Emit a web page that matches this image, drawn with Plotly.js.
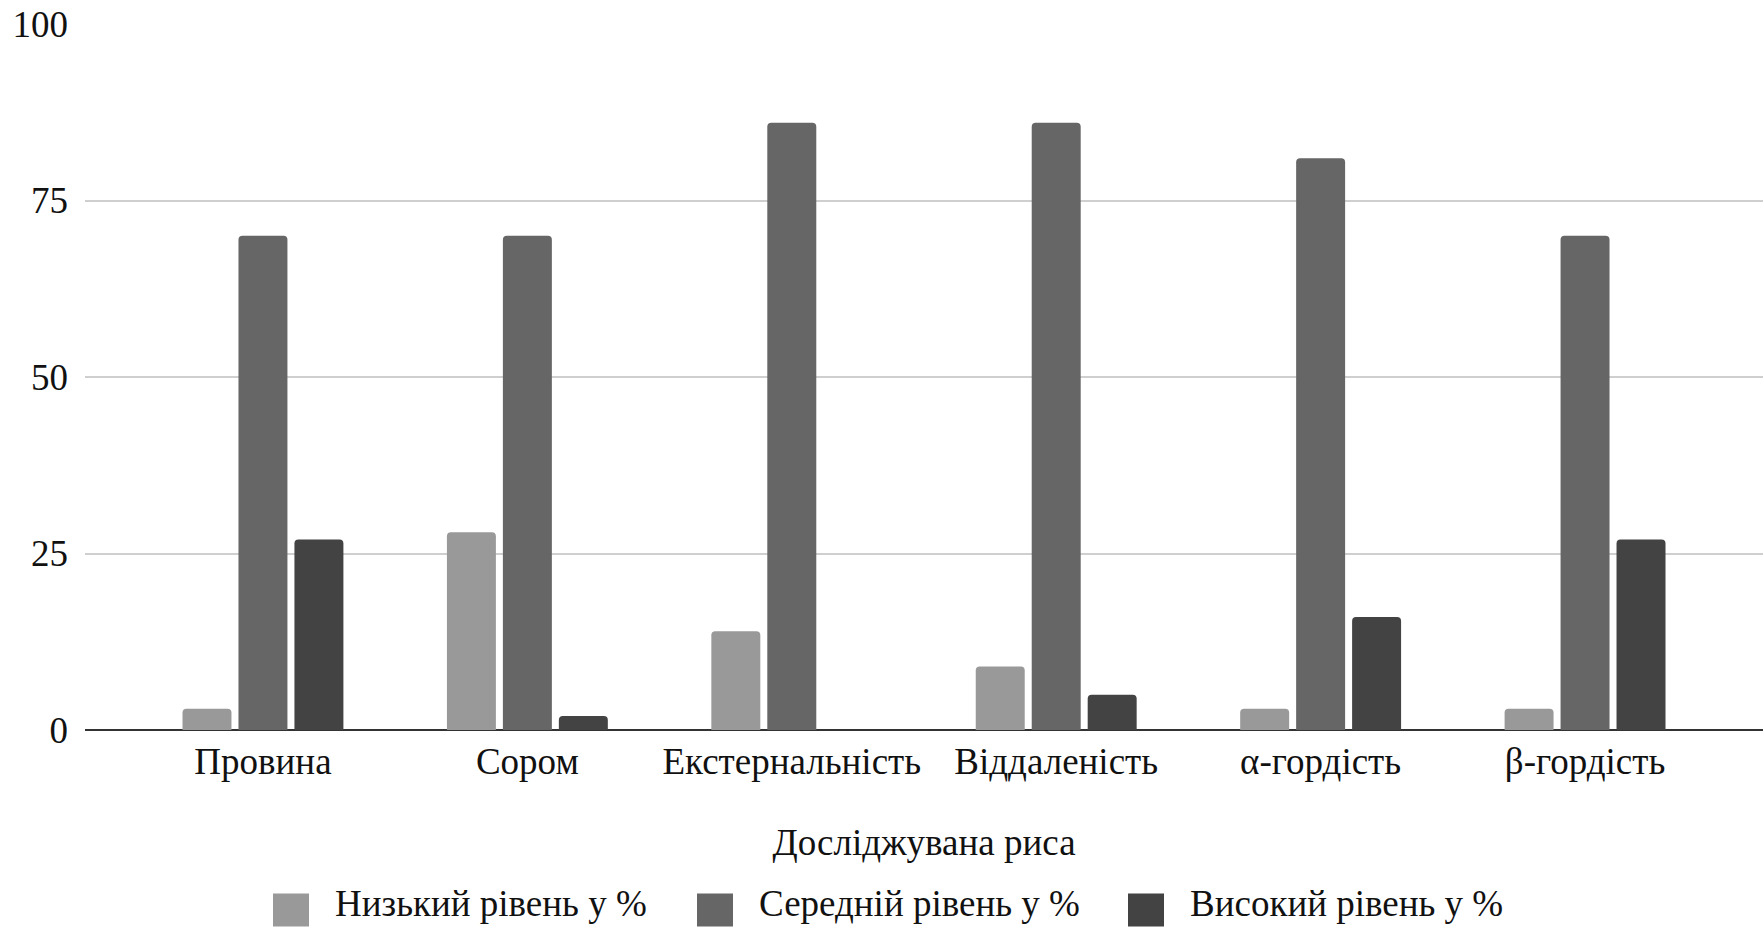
<!DOCTYPE html>
<html>
<head>
<meta charset="utf-8">
<script src="https://cdn.plot.ly/plotly-3.0.1.min.js"></script>
<style>
  html, body { margin: 0; padding: 0; background: #ffffff; }
  #chart { width: 1763px; height: 930px; }
</style>
</head>
<body>
<div id="chart"></div>
<script>
// Traits examined (x-axis categories)
const traits = ['Провина', 'Сором', 'Екстернальність', 'Віддаленість', 'α-гордість', 'β-гордість'];

// Share of respondents per level, %
const lowLevel = [3, 28, 14, 9, 3, 3];
const midLevel = [70, 70, 86, 86, 81, 70];
const highLevel = [27, 2, 0, 5, 16, 27];

const seriesNames = ['Низький рівень у %', 'Середній рівень у %', 'Високий рівень у %'];
const seriesColors = ['#999999', '#666666', '#434343'];

const yTicks = [0, 25, 50, 75, 100];
const xAxisTitle = 'Досліджувана риса';

const font = 'Liberation Serif, Times New Roman, serif';
const textSize = 37;
const textColor = '#111111';

const W = 1763, H = 930;
const margin = { l: 85, r: 0, t: 24, b: 200 };

// Pixel -> paper conversion for the legend row under the axis title
const plotW = W - margin.l - margin.r;
const plotH = H - margin.t - margin.b;
const px = v => (v - margin.l) / plotW;
const py = v => (H - margin.b - v) / plotH;

// Legend row: big swatches followed by the series names
const legendSwatchLeft = [273, 697, 1128];
const swatch = 33;
const swatchY = 910;
const labelY = 903;
const legendShapes = seriesNames.map((_, i) => ({
  type: 'rect',
  xref: 'paper', yref: 'paper',
  x0: px(legendSwatchLeft[i]), x1: px(legendSwatchLeft[i] + swatch + 3),
  y0: py(swatchY - swatch / 2), y1: py(swatchY + swatch / 2),
  fillcolor: seriesColors[i],
  line: { width: 0 },
  layer: 'above'
}));
const legendLabels = seriesNames.map((name, i) => ({
  text: name,
  xref: 'paper', yref: 'paper',
  x: px(legendSwatchLeft[i] + 61), y: py(labelY),
  xanchor: 'left', yanchor: 'middle',
  showarrow: false,
  borderpad: 0,
  font: { family: font, size: textSize, color: textColor }
}));

const traces = [lowLevel, midLevel, highLevel].map((vals, i) => ({
  type: 'bar',
  name: seriesNames[i],
  x: traits,
  y: vals,
  marker: { color: seriesColors[i], cornerradius: 4, line: { width: 0 } },
  hoverinfo: 'x+y+name'
}));

const layout = {
  width: W,
  height: H,
  paper_bgcolor: '#ffffff',
  plot_bgcolor: '#ffffff',
  margin: margin,
  font: { family: font, size: textSize, color: textColor },
  barmode: 'group',
  bargap: 0.365,
  bargroupgap: 0.125,
  showlegend: false,
  shapes: legendShapes,
  annotations: legendLabels,
  xaxis: {
    type: 'category',
    range: [-0.673, 5.673],
    showgrid: false,
    showline: false,
    ticks: '',
    ticklabelstandoff: 6,
    tickfont: { family: font, size: textSize, color: textColor },
    title: {
      text: xAxisTitle,
      font: { family: font, size: textSize, color: textColor },
      standoff: 48
    },
    automargin: false
  },
  yaxis: {
    range: [0, 100],
    tickmode: 'array',
    tickvals: yTicks,
    ticktext: yTicks.map(String),
    showgrid: true,
    gridcolor: '#cfcfcf',
    gridwidth: 2,
    zeroline: true,
    zerolinecolor: '#333333',
    zerolinewidth: 2,
    showline: false,
    ticks: '',
    ticklabelstandoff: 16,
    tickfont: { family: font, size: textSize, color: textColor },
    automargin: false
  }
};

Plotly.newPlot('chart', traces, layout, { displayModeBar: false, responsive: false });
</script>
</body>
</html>
